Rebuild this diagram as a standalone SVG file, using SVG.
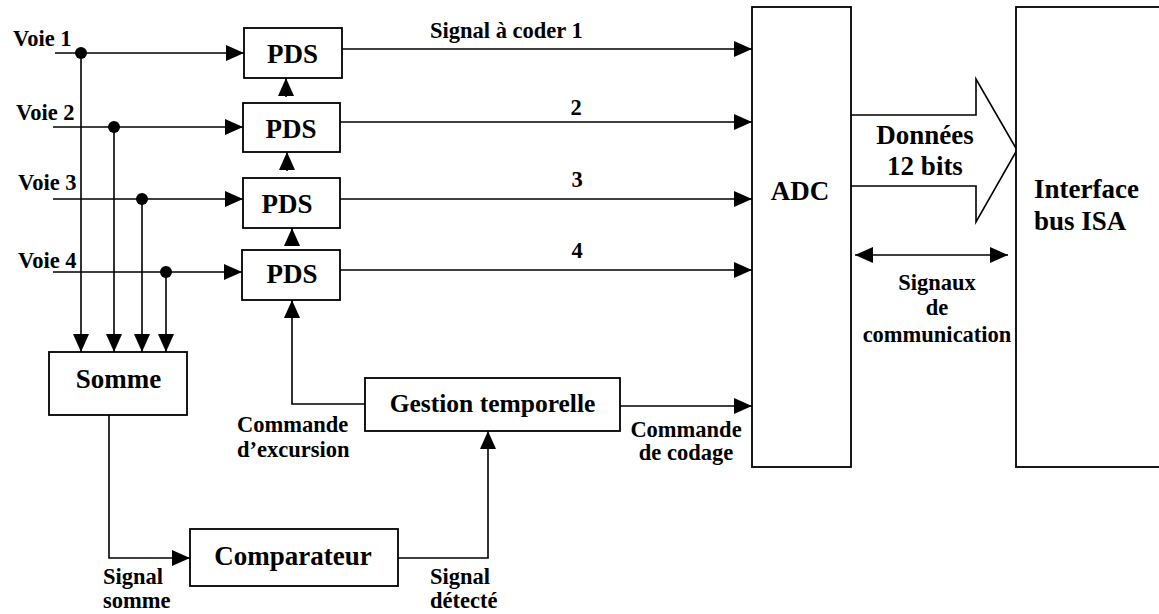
<svg xmlns="http://www.w3.org/2000/svg" width="1159" height="614" viewBox="0 0 1159 614">
<style>
  .box{fill:#fff;stroke:#000;stroke-width:1.8}
  .ln{fill:none;stroke:#000;stroke-width:1.6}
  .ar{fill:none;stroke:#000;stroke-width:1.6;marker-end:url(#ah)}
  .big{font-family:"Liberation Serif","Times New Roman",serif;font-weight:bold;font-size:27px;fill:#000}
  .sm{font-family:"Liberation Serif","Times New Roman",serif;font-weight:bold;font-size:22.5px;fill:#000}
  .mid{text-anchor:middle}
</style>
<defs>
  <marker id="ah" markerUnits="userSpaceOnUse" markerWidth="18" markerHeight="18" viewBox="0 0 18 16" refX="18" refY="8" orient="auto">
    <path d="M0,0 L18,8 L0,16 Z" fill="#000"/>
  </marker>
  <marker id="ahs" markerUnits="userSpaceOnUse" markerWidth="18" markerHeight="18" viewBox="0 0 18 16" refX="18" refY="8" orient="auto-start-reverse">
    <path d="M0,0 L18,8 L0,16 Z" fill="#000"/>
  </marker>
</defs>

<g id="connectors">
  <!-- voie inputs -->
  <line class="ar" x1="55" y1="53" x2="244" y2="53"/>
  <line class="ar" x1="53" y1="127" x2="243" y2="127"/>
  <line class="ar" x1="53" y1="199" x2="243" y2="199"/>
  <line class="ar" x1="53" y1="272" x2="242" y2="272"/>
  <circle cx="81" cy="53" r="6" fill="#000"/>
  <circle cx="114" cy="127" r="6" fill="#000"/>
  <circle cx="142" cy="199" r="6" fill="#000"/>
  <circle cx="166" cy="272" r="6" fill="#000"/>
  <line class="ar" x1="81" y1="53" x2="81" y2="352"/>
  <line class="ar" x1="114" y1="127" x2="114" y2="352"/>
  <line class="ar" x1="142" y1="199" x2="142" y2="352"/>
  <line class="ar" x1="166" y1="272" x2="166" y2="352"/>
  <!-- PDS chain -->
  <line class="ar" x1="286" y1="97" x2="286" y2="78"/>
  <line class="ar" x1="287" y1="171" x2="287" y2="152"/>
  <line class="ar" x1="292" y1="244" x2="292" y2="228"/>
  <!-- PDS outputs -->
  <line class="ar" x1="342" y1="49" x2="752" y2="49"/>
  <line class="ar" x1="340" y1="122" x2="752" y2="122"/>
  <line class="ar" x1="340" y1="199" x2="752" y2="199"/>
  <line class="ar" x1="340" y1="270" x2="752" y2="270"/>
  <!-- Somme -> Comparateur -->
  <polyline class="ar" points="109,415 109,558 190,558"/>
  <!-- Comparateur -> Gestion -->
  <polyline class="ar" points="398,558 488,558 488,431"/>
  <!-- Gestion -> PDS4 -->
  <polyline class="ar" points="365,404 292,404 292,300"/>
  <!-- Gestion -> ADC -->
  <line class="ar" x1="620" y1="406" x2="752" y2="406"/>
  <!-- big data arrow -->
  <polyline class="ln" points="851,115 976,115 976,79 1017,150 976,222 976,186 851,186"/>
  <!-- bidirectional -->
  <line class="ln" x1="855" y1="255" x2="1008" y2="255" marker-start="url(#ahs)" marker-end="url(#ah)"/>
</g>

<g id="labels">
  <text class="sm" x="13" y="46">Voie 1</text>
  <text class="sm" x="16" y="120">Voie 2</text>
  <text class="sm" x="18" y="190">Voie 3</text>
  <text class="sm" x="18" y="268">Voie 4</text>
  <text class="sm" x="430" y="38">Signal à coder 1</text>
  <text class="sm mid" x="576" y="115">2</text>
  <text class="sm mid" x="577" y="187">3</text>
  <text class="sm mid" x="577" y="258">4</text>
  <text class="sm" x="237" y="432">Commande</text>
  <text class="sm" x="237" y="457">d’excursion</text>
  <text class="sm mid" x="686" y="437">Commande</text>
  <text class="sm mid" x="686" y="460">de codage</text>
  <text class="sm" x="103" y="584">Signal</text>
  <text class="sm" x="103" y="608">somme</text>
  <text class="sm" x="430" y="584">Signal</text>
  <text class="sm" x="430" y="608">détecté</text>
  <text class="big mid" x="925" y="144">Données</text>
  <text class="big mid" x="925" y="175">12 bits</text>
  <text class="sm mid" x="937" y="290">Signaux</text>
  <text class="sm mid" x="937" y="315">de</text>
  <text class="sm mid" x="937" y="342">communication</text>
</g>

<g id="pds1"><rect class="box" x="244" y="28" width="98" height="50"/><text class="big mid" x="292.5" y="63">PDS</text></g>
<g id="pds2"><rect class="box" x="243" y="103" width="97" height="49"/><text class="big mid" x="291" y="138">PDS</text></g>
<g id="pds3"><rect class="box" x="243" y="178" width="97" height="50"/><text class="big mid" x="287" y="213">PDS</text></g>
<g id="pds4"><rect class="box" x="242" y="250" width="98" height="50"/><text class="big mid" x="292" y="283">PDS</text></g>
<g id="somme"><rect class="box" x="49" y="352" width="138" height="63"/><text class="big mid" x="118.5" y="388">Somme</text></g>
<g id="comparateur"><rect class="box" x="190" y="529" width="208" height="57"/><text class="big mid" x="293" y="565">Comparateur</text></g>
<g id="gestion"><rect class="box" x="365" y="378" width="255" height="53"/><text class="big mid" x="492.5" y="412" style="font-size:25.5px">Gestion temporelle</text></g>
<g id="adc"><rect class="box" x="752" y="7" width="99" height="460"/><text class="big mid" x="800" y="200">ADC</text></g>
<g id="interface"><rect class="box" x="1016" y="7" width="160" height="460"/><text class="big" x="1034" y="198">Interface</text><text class="big" x="1034" y="230">bus ISA</text></g>
</svg>
